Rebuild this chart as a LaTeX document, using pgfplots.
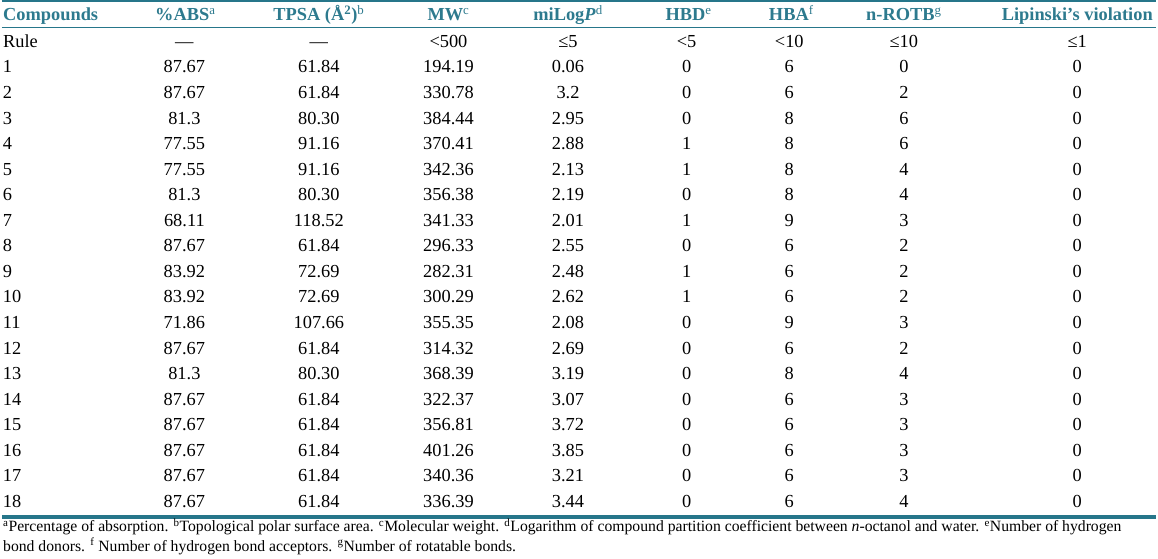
\documentclass[border=0pt]{standalone}
\usepackage{fontspec}
\setmainfont{Liberation Serif}
\usepackage{pgfplots}
\usepackage{pgfplotstable}
\pgfplotsset{compat=1.18}
\definecolor{rulec}{RGB}{38,118,138}
\definecolor{hdrc}{RGB}{45,122,142}
\newcommand{\fs}{\fontsize{18.5}{22}\selectfont}
\newcommand{\fn}{\fontsize{15.8}{18}\selectfont}
\pgfplotstableread{
row abs tpsa mw logp hbd hba rotb lip
1 87.67 61.84 194.19 0.06 0 6 0 0
2 87.67 61.84 330.78 3.2 0 6 2 0
3 81.3 80.30 384.44 2.95 0 8 6 0
4 77.55 91.16 370.41 2.88 1 8 6 0
5 77.55 91.16 342.36 2.13 1 8 4 0
6 81.3 80.30 356.38 2.19 0 8 4 0
7 68.11 118.52 341.33 2.01 1 9 3 0
8 87.67 61.84 296.33 2.55 0 6 2 0
9 83.92 72.69 282.31 2.48 1 6 2 0
10 83.92 72.69 300.29 2.62 1 6 2 0
11 71.86 107.66 355.35 2.08 0 9 3 0
12 87.67 61.84 314.32 2.69 0 6 2 0
13 81.3 80.30 368.39 3.19 0 8 4 0
14 87.67 61.84 322.37 3.07 0 6 3 0
15 87.67 61.84 356.81 3.72 0 6 3 0
16 87.67 61.84 401.26 3.85 0 6 3 0
17 87.67 61.84 340.36 3.21 0 6 3 0
18 87.67 61.84 336.39 3.44 0 6 4 0
}\datatable
\pgfplotsset{txt/.style={draw=none, mark=none, nodes near coords, point meta=explicit symbolic,
    every node near coord/.append style={anchor=base, inner sep=0pt, outer sep=0pt, font=\fs, text=black}}}
\begin{document}
\begin{tikzpicture}
\begin{axis}[name=ax, hide axis, scale only axis, width=1158bp, height=560bp,
  xmin=0, xmax=1158, ymin=0, ymax=560, y dir=reverse, clip=false]
% rules
\addplot[draw=rulec, mark=none, line width=2bp] coordinates {(0,1.2) (1158,1.2)};
\addplot[draw=rulec, mark=none, line width=1.5bp] coordinates {(0,27.5) (1158,27.5)};
\addplot[draw=rulec, mark=none, line width=4bp] coordinates {(0,519) (1158,519)};
% body
\addplot[txt, every node near coord/.append style={anchor=base west}] table[x expr=1, y expr=47.5+25.65*\thisrow{row}, meta=row] {\datatable};
\addplot[txt] table[x expr=183, y expr=47.5+25.65*\thisrow{row}, meta=abs] {\datatable};
\addplot[txt] table[x expr=318, y expr=47.5+25.65*\thisrow{row}, meta=tpsa] {\datatable};
\addplot[txt] table[x expr=448, y expr=47.5+25.65*\thisrow{row}, meta=mw] {\datatable};
\addplot[txt] table[x expr=568, y expr=47.5+25.65*\thisrow{row}, meta=logp] {\datatable};
\addplot[txt] table[x expr=687, y expr=47.5+25.65*\thisrow{row}, meta=hbd] {\datatable};
\addplot[txt] table[x expr=790, y expr=47.5+25.65*\thisrow{row}, meta=hba] {\datatable};
\addplot[txt] table[x expr=905, y expr=47.5+25.65*\thisrow{row}, meta=rotb] {\datatable};
\addplot[txt] table[x expr=1079, y expr=47.5+25.65*\thisrow{row}, meta=lip] {\datatable};
% header
\begin{scope}[every node/.style={anchor=base, inner sep=0pt, font=\fs\bfseries, text=hdrc}]
\node[anchor=base west] at (axis cs:1,20.5) {Compounds};
\node at (axis cs:184,20.5) {\%ABS\textsuperscript{\mdseries a}};
\node at (axis cs:318,20.5) {TPSA (Å\textsuperscript{2})\textsuperscript{\mdseries b}};
\node at (axis cs:448,20.5) {MW\textsuperscript{\mdseries c}};
\node at (axis cs:568,20.5) {miLog\textit{P}\textsuperscript{\mdseries d}};
\node at (axis cs:689,20.5) {HBD\textsuperscript{\mdseries e}};
\node at (axis cs:792,20.5) {HBA\textsuperscript{\mdseries f}};
\node at (axis cs:905,20.5) {n-ROTB\textsuperscript{\mdseries g}};
\node at (axis cs:1079,20.5) {Lipinski’s violation};
\end{scope}
% rule row
\begin{scope}[every node/.style={anchor=base, inner sep=0pt, font=\fs, text=black}]
\node[anchor=base west] at (axis cs:1,47.5) {Rule};
\node at (axis cs:183,47.5) {—};
\node at (axis cs:318,47.5) {—};
\node at (axis cs:448,47.5) {<500};
\node at (axis cs:568,47.5) {≤5};
\node at (axis cs:687,47.5) {<5};
\node at (axis cs:790,47.5) {<10};
\node at (axis cs:905,47.5) {≤10};
\node at (axis cs:1079,47.5) {≤1};
\end{scope}
% footnotes
\begin{scope}[every node/.style={anchor=base west, inner sep=0pt, font=\fn, text=black}]
\node at (axis cs:1,533.5) {\textsuperscript{a}Percentage of absorption. \textsuperscript{b}Topological polar surface area. \textsuperscript{c}Molecular weight. \textsuperscript{d}Logarithm of compound partition coefficient between \textit{n}-octanol and water. \textsuperscript{e}Number of hydrogen};
\node at (axis cs:1,553) {bond donors. \textsuperscript{f} Number of hydrogen bond acceptors. \textsuperscript{g}Number of rotatable bonds.};
\end{scope}
\end{axis}
\useasboundingbox (ax.south west) rectangle (ax.north east);
\end{tikzpicture}
\end{document}
